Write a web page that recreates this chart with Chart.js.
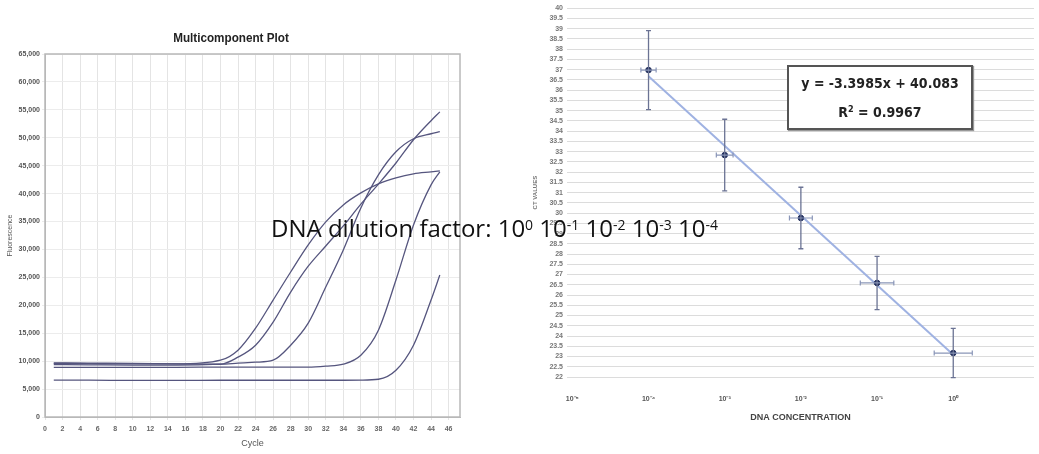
<!DOCTYPE html>
<html><head><meta charset="utf-8">
<script src="https://cdn.jsdelivr.net/npm/chart.js@4/dist/chart.umd.min.js"></script>
<style>
html,body{margin:0;padding:0;background:#fff;width:1039px;height:454px;overflow:hidden;}
#left{position:absolute;left:0;top:0;width:462px;height:454px;}
#right{position:absolute;left:500px;top:0;width:539px;height:454px;}
#overlay{position:absolute;left:271px;top:216px;font-family:"Open Sans","Noto Sans",sans-serif;font-size:24px;color:#111;white-space:nowrap;line-height:24px;}
#overlay sup{font-size:14px;vertical-align:7px;line-height:0;}
#eqbox{position:absolute;left:787px;top:65px;width:182px;height:61px;border:2px solid #555;box-shadow:1px 1px 1px #999;background:#fff;
 font-family:"DejaVu Sans Condensed","DejaVu Sans",sans-serif;font-stretch:condensed;font-weight:bold;font-size:14px;color:#222;text-align:center;}
#eqbox div{position:absolute;left:0;width:100%;}
#eqbox sup{font-size:9px;vertical-align:5px;line-height:0;}
</style></head><body>
<div id="left"><canvas id="c1"></canvas></div>
<div id="right"><canvas id="c2"></canvas></div>
<div id="eqbox"><div style="top:8px">y = -3.3985x + 40.083</div><div style="top:37px">R<sup>2</sup> = 0.9967</div></div>
<div id="overlay">DNA dilution factor: 10<sup>0</sup> 10<sup>-1</sup> 10<sup>-2</sup> 10<sup>-3</sup> 10<sup>-4</sup></div>
<script>
// ---------- Left chart data (Multicomponent Plot) ----------
const CYCLES = [1,5,10,15,20,22,24,26,28,30,32,34,36,38,40,42,44,45];
const CYCLE_TICKS = [0,2,4,6,8,10,12,14,16,18,20,22,24,26,28,30,32,34,36,38,40,42,44,46];
const FLUOR_TICKS = [0,5000,10000,15000,20000,25000,30000,35000,40000,45000,50000,55000,60000,65000];
const CURVE_A = [9700,9650,9600,9500,9450,10710,12860,16990,22370,27000,30620,34210,38120,41710,45480,49650,53060,54640];
const CURVE_B = [9400,9350,9300,9300,9450,9630,9810,10170,12860,16810,23270,29910,37440,43360,47490,49820,50720,51080];
const CURVE_C = [9600,9550,9500,9500,10170,11970,15910,20940,25960,30800,34930,37980,40130,41750,42820,43540,43900,44080];
const CURVE_D = [8900,8900,8900,8900,8930,8930,8930,8930,8930,8930,9100,9450,11070,15550,24520,34390,41570,43900];
const CURVE_E = [6600,6600,6550,6550,6580,6580,6580,6580,6580,6580,6580,6580,6600,6760,8380,12860,20940,25430];

// ---------- Right chart data (standard curve) ----------
const CONC_TICKS = [0,1,2,3,4,5];
const CONC_LABELS = ['10\u207B\u2075','10\u207B\u2074','10\u207B\u00B3','10\u207B\u00B2','10\u207B\u00B9','10\u2070'];
const CT_TICKS = [22,22.5,23,23.5,24,24.5,25,25.5,26,26.5,27,27.5,28,28.5,29,29.5,30,30.5,31,31.5,32,32.5,33,33.5,34,34.5,35,35.5,36,36.5,37,37.5,38,38.5,39,39.5,40];
const CT_X = [1,2,3,4,5];
const CT_VALUES = [36.98,32.83,29.76,26.59,23.17];
const CT_ERR_Y = [1.93,1.75,1.5,1.3,1.2];
const CT_ERR_X = [0.1,0.11,0.15,0.22,0.25];
const TREND_X = [1,5];
const TREND_Y = [36.68,23.09];

const curveColor = '#55557e';
function curve(vals){
  return {data: CYCLES.map((c,i)=>({x:c,y:vals[i]})), borderColor:curveColor, borderWidth:1.3,
    pointRadius:0, cubicInterpolationMode:'monotone', fill:false};
}
const frame = {id:'frame', afterDraw(ch){
  const a=ch.chartArea, c=ch.ctx; c.save(); c.strokeStyle='#b8b8b8'; c.lineWidth=1.5;
  c.strokeRect(a.left,a.top,a.right-a.left,a.bottom-a.top); c.restore();
  c.save(); c.fillStyle='#222'; c.font='bold 13px "Liberation Sans",Arial';
  c.translate(231,38); c.scale(0.9,1);
  c.textAlign='center'; c.textBaseline='middle'; c.fillText('Multicomponent Plot',0,0); c.restore();
}};
new Chart(document.getElementById('c1'), {
  type:'line',
  data:{datasets:[curve(CURVE_A),curve(CURVE_B),curve(CURVE_C),curve(CURVE_D),curve(CURVE_E)]},
  options:{responsive:true, maintainAspectRatio:false, animation:false,
    layout:{padding:{top:54,right:2,left:0,bottom:0}},
    plugins:{legend:{display:false}, tooltip:{enabled:false}},
    scales:{
      x:{type:'linear', min:0, max:47.3,
        afterBuildTicks:s=>{s.ticks=CYCLE_TICKS.map(v=>({value:v}));},
        afterFit:s=>{s.height=37;},
        grid:{color:'#e4e4e4', drawTicks:true, tickLength:3},
        border:{color:'#b8b8b8'},
        ticks:{color:'#666', font:{size:7, weight:'bold', family:'Liberation Sans'}, padding:5, maxRotation:0, autoSkip:false},
        title:{display:true, text:'Cycle', color:'#555', font:{size:9, family:'Liberation Sans'}, padding:{top:0,bottom:5}}},
      y:{min:0, max:65000,
        afterBuildTicks:s=>{s.ticks=FLUOR_TICKS.map(v=>({value:v}));},
        afterFit:s=>{s.width=45;},
        grid:{color:'#ececec', tickLength:3},
        border:{color:'#b8b8b8'},
        ticks:{color:'#555', font:{size:7, weight:'bold', family:'Liberation Sans'}, padding:2,
          callback:v=>v.toLocaleString('en-US')},
        title:{display:true, text:'Fluorescence', color:'#555', font:{size:7, family:'Liberation Sans'}, padding:{top:6,bottom:0}}}
    }
  },
  plugins:[frame]
});

const errBars = {id:'errBars', afterDatasetsDraw(ch){
  const xs=ch.scales.x, ys=ch.scales.y, c=ch.ctx; c.save();
  CT_X.forEach((xv,i)=>{
    const px=xs.getPixelForValue(xv), py=ys.getPixelForValue(CT_VALUES[i]);
    const y1=ys.getPixelForValue(CT_VALUES[i]+CT_ERR_Y[i]), y2=ys.getPixelForValue(CT_VALUES[i]-CT_ERR_Y[i]);
    const x1=xs.getPixelForValue(xv-CT_ERR_X[i]), x2=xs.getPixelForValue(xv+CT_ERR_X[i]);
    c.strokeStyle='#6b7394'; c.lineWidth=1.3;
    c.beginPath(); c.moveTo(px,y1); c.lineTo(px,y2);
    c.moveTo(px-2.5,y1); c.lineTo(px+2.5,y1); c.moveTo(px-2.5,y2); c.lineTo(px+2.5,y2); c.stroke();
    c.strokeStyle='#8a96b8'; c.lineWidth=1.2;
    c.beginPath(); c.moveTo(x1,py); c.lineTo(x2,py);
    c.moveTo(x1,py-2.5); c.lineTo(x1,py+2.5); c.moveTo(x2,py-2.5); c.lineTo(x2,py+2.5); c.stroke();
  });
  c.restore();
}};
new Chart(document.getElementById('c2'), {
  type:'scatter',
  data:{datasets:[
    {data:CT_X.map((x,i)=>({x:x,y:CT_VALUES[i]})), backgroundColor:'#23305e', borderColor:'#23305e', pointRadius:2.8, order:0},
    {type:'line', data:TREND_X.map((x,i)=>({x:x,y:TREND_Y[i]})), borderColor:'#9fb2e2', borderWidth:2, pointRadius:0, order:1}
  ]},
  options:{responsive:true, maintainAspectRatio:false, animation:false,
    layout:{padding:{top:8,right:4,left:0,bottom:0}},
    plugins:{legend:{display:false}, tooltip:{enabled:false}},
    scales:{
      x:{type:'linear', min:-0.07, max:6.06,
        afterBuildTicks:s=>{s.ticks=CONC_TICKS.map(v=>({value:v}));},
        afterFit:s=>{s.height=77;},
        grid:{display:false},
        border:{display:false},
        ticks:{color:'#555', font:{size:7, weight:'bold', family:'Liberation Sans'}, padding:10, autoSkip:false,
          callback:v=>CONC_LABELS[v]},
        title:{display:true, text:'DNA CONCENTRATION', color:'#444', font:{size:9, weight:'bold', family:'Liberation Sans'}, padding:{top:0,bottom:31}}},
      y:{min:22, max:40,
        afterBuildTicks:s=>{s.ticks=CT_TICKS.map(v=>({value:v}));},
        afterFit:s=>{s.width=67;},
        grid:{color:'#dcdcdc', drawTicks:false},
        border:{display:false},
        ticks:{color:'#777', font:{size:7, weight:'bold', family:'Liberation Sans'}, padding:4, autoSkip:false,
          callback:v=>String(v)},
        title:{display:true, text:'CT VALUES', color:'#777', font:{size:6, weight:'bold', family:'Liberation Sans'}, padding:{top:32,bottom:0}}}
    }
  },
  plugins:[errBars]
});
</script>
</body></html>
